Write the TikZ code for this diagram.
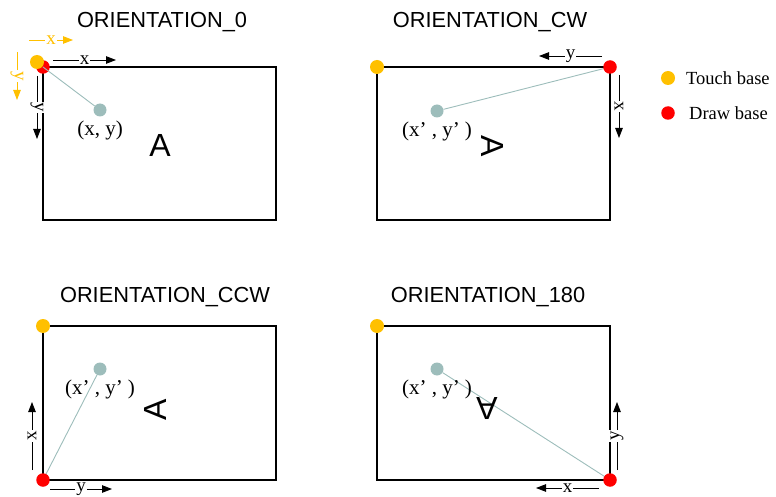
\documentclass[tikz,border=0pt]{standalone}
\usepackage{fontspec}
\setmainfont{Liberation Serif}
\setsansfont{Liberation Sans}
\usetikzlibrary{arrows.meta}
\definecolor{touchc}{HTML}{FFC000}
\definecolor{drawc}{HTML}{FF0000}
\definecolor{ptc}{HTML}{9DBDBB}
\begin{document}
\begin{tikzpicture}[x=1pt,y=-1pt,
  dot/.style={circle,inner sep=0pt,minimum size=14pt},
  touchdot/.style={dot,fill=touchc},
  drawdot/.style={dot,fill=drawc,minimum size=13.5pt},
  ptdot/.style={dot,fill=ptc,minimum size=13pt},
  panel/.style={draw=black,line width=1.1pt},
  title/.style={font=\sffamily\fontsize{21.8}{26}\selectfont},
  bigA/.style={font=\sffamily\fontsize{32}{34}\selectfont},
  coord/.style={font=\fontsize{21}{24}\selectfont},
  axis/.style={-{Triangle[length=10pt,width=7.5pt]},line width=0.9pt},
  lbl/.style={fill=white,inner sep=1.2pt,font=\fontsize{19}{21}\selectfont},
  link/.style={draw=ptc,line width=0.9pt},
  legend/.style={anchor=west,inner sep=2pt,font=\fontsize{18.5}{21}\selectfont}]
\useasboundingbox (0,0) rectangle (776,497);

% ---------- Panel 1: ORIENTATION_0 ----------
\node[title] (t1) at (162,22) {ORIENTATION\_0};
\draw[panel] (43,67) rectangle (276,220);
\node[drawdot] (r1) at (43,67) {};
\node[touchdot] (o1) at (37,62) {};
\node[ptdot] (g1) at (100,110) {};
\draw[link] (r1.center) -- (g1);
\node[coord] (c1) at (100,130) {(x, y)};
\node[bigA] (a1) at (160,145) {A};
\coordinate (p1xs) at (53,60); \coordinate (p1xe) at (116,60);
\draw[axis] (p1xs) -- node[lbl] (p1xl) {x} (p1xe);
\coordinate (p1ys) at (37,76); \coordinate (p1ye) at (37,139);
\draw[axis] (p1ys) -- node[lbl,rotate=-90] (p1yl) {y} (p1ye);
\coordinate (p1oxs) at (29,40); \coordinate (p1oxe) at (73,40);
\draw[axis,touchc] (p1oxs) -- node[lbl,text=touchc] (p1oxl) {x} (p1oxe);
\coordinate (p1oys) at (17,52); \coordinate (p1oye) at (17,100);
\draw[axis,touchc] (p1oys) -- node[lbl,text=touchc,rotate=-90] (p1oyl) {y} (p1oye);

% ---------- Panel 2: ORIENTATION_CW ----------
\node[title] (t2) at (490,22) {ORIENTATION\_CW};
\draw[panel] (377,67) rectangle (610,220);
\node[touchdot] (o2) at (377,67) {};
\node[ptdot] (g2) at (437,111) {};
\draw[link] (610,67) coordinate (r2c) -- (g2);
\node[drawdot] (r2) at (r2c) {};
\node[coord] (c2) at (437,131) {(x’ , y’ )};
\node[bigA,rotate=-90] (a2) at (493,146) {A};
\coordinate (p2ys) at (602,56); \coordinate (p2ye) at (539,56);
\draw[axis] (p2ys) -- node[lbl] (p2yl) {y} (p2ye);
\coordinate (p2xs) at (619,75); \coordinate (p2xe) at (619,138);
\draw[axis] (p2xs) -- node[lbl,rotate=-90] (p2xl) {x} (p2xe);

% ---------- Panel 3: ORIENTATION_CCW ----------
\node[title] (t3) at (165,297) {ORIENTATION\_CCW};
\draw[panel] (43,326) rectangle (276,480);
\node[touchdot] (o3) at (43,326) {};
\node[ptdot] (g3) at (100,369) {};
\draw[link] (43,480) coordinate (r3c) -- (g3);
\node[drawdot] (r3) at (r3c) {};
\node[coord] (c3) at (100,389) {(x’ , y’ )};
\node[bigA,rotate=90] (a3) at (155,410) {A};
\coordinate (p3xs) at (32,470); \coordinate (p3xe) at (32,402);
\draw[axis] (p3xs) -- node[lbl,rotate=90] (p3xl) {x} (p3xe);
\coordinate (p3ys) at (50,489); \coordinate (p3ye) at (112,489);
\draw[axis] (p3ys) -- node[lbl] (p3yl) {y} (p3ye);

% ---------- Panel 4: ORIENTATION_180 ----------
\node[title] (t4) at (488,297) {ORIENTATION\_180};
\draw[panel] (377,326) rectangle (610,480);
\node[touchdot] (o4) at (377,326) {};
\node[ptdot] (g4) at (437,369) {};
\draw[link] (610,480) coordinate (r4c) -- (g4);
\node[drawdot] (r4) at (r4c) {};
\node[coord] (c4) at (437,389) {(x’ , y’ )};
\node[bigA,rotate=180] (a4) at (487,409) {A};
\coordinate (p4ys) at (617,470); \coordinate (p4ye) at (617,402);
\draw[axis] (p4ys) -- node[lbl,rotate=90] (p4yl) {y} (p4ye);
\coordinate (p4xs) at (599,488); \coordinate (p4xe) at (536,488);
\draw[axis] (p4xs) -- node[lbl] (p4xl) {x} (p4xe);

% ---------- Legend ----------
\node[touchdot] (lo) at (668,78) {};
\node[legend] (lot) at (684,78) {Touch base};
\node[drawdot] (lr) at (668,113) {};
\node[legend] (lrt) at (687,113) {Draw base};
\end{tikzpicture}
\end{document}
